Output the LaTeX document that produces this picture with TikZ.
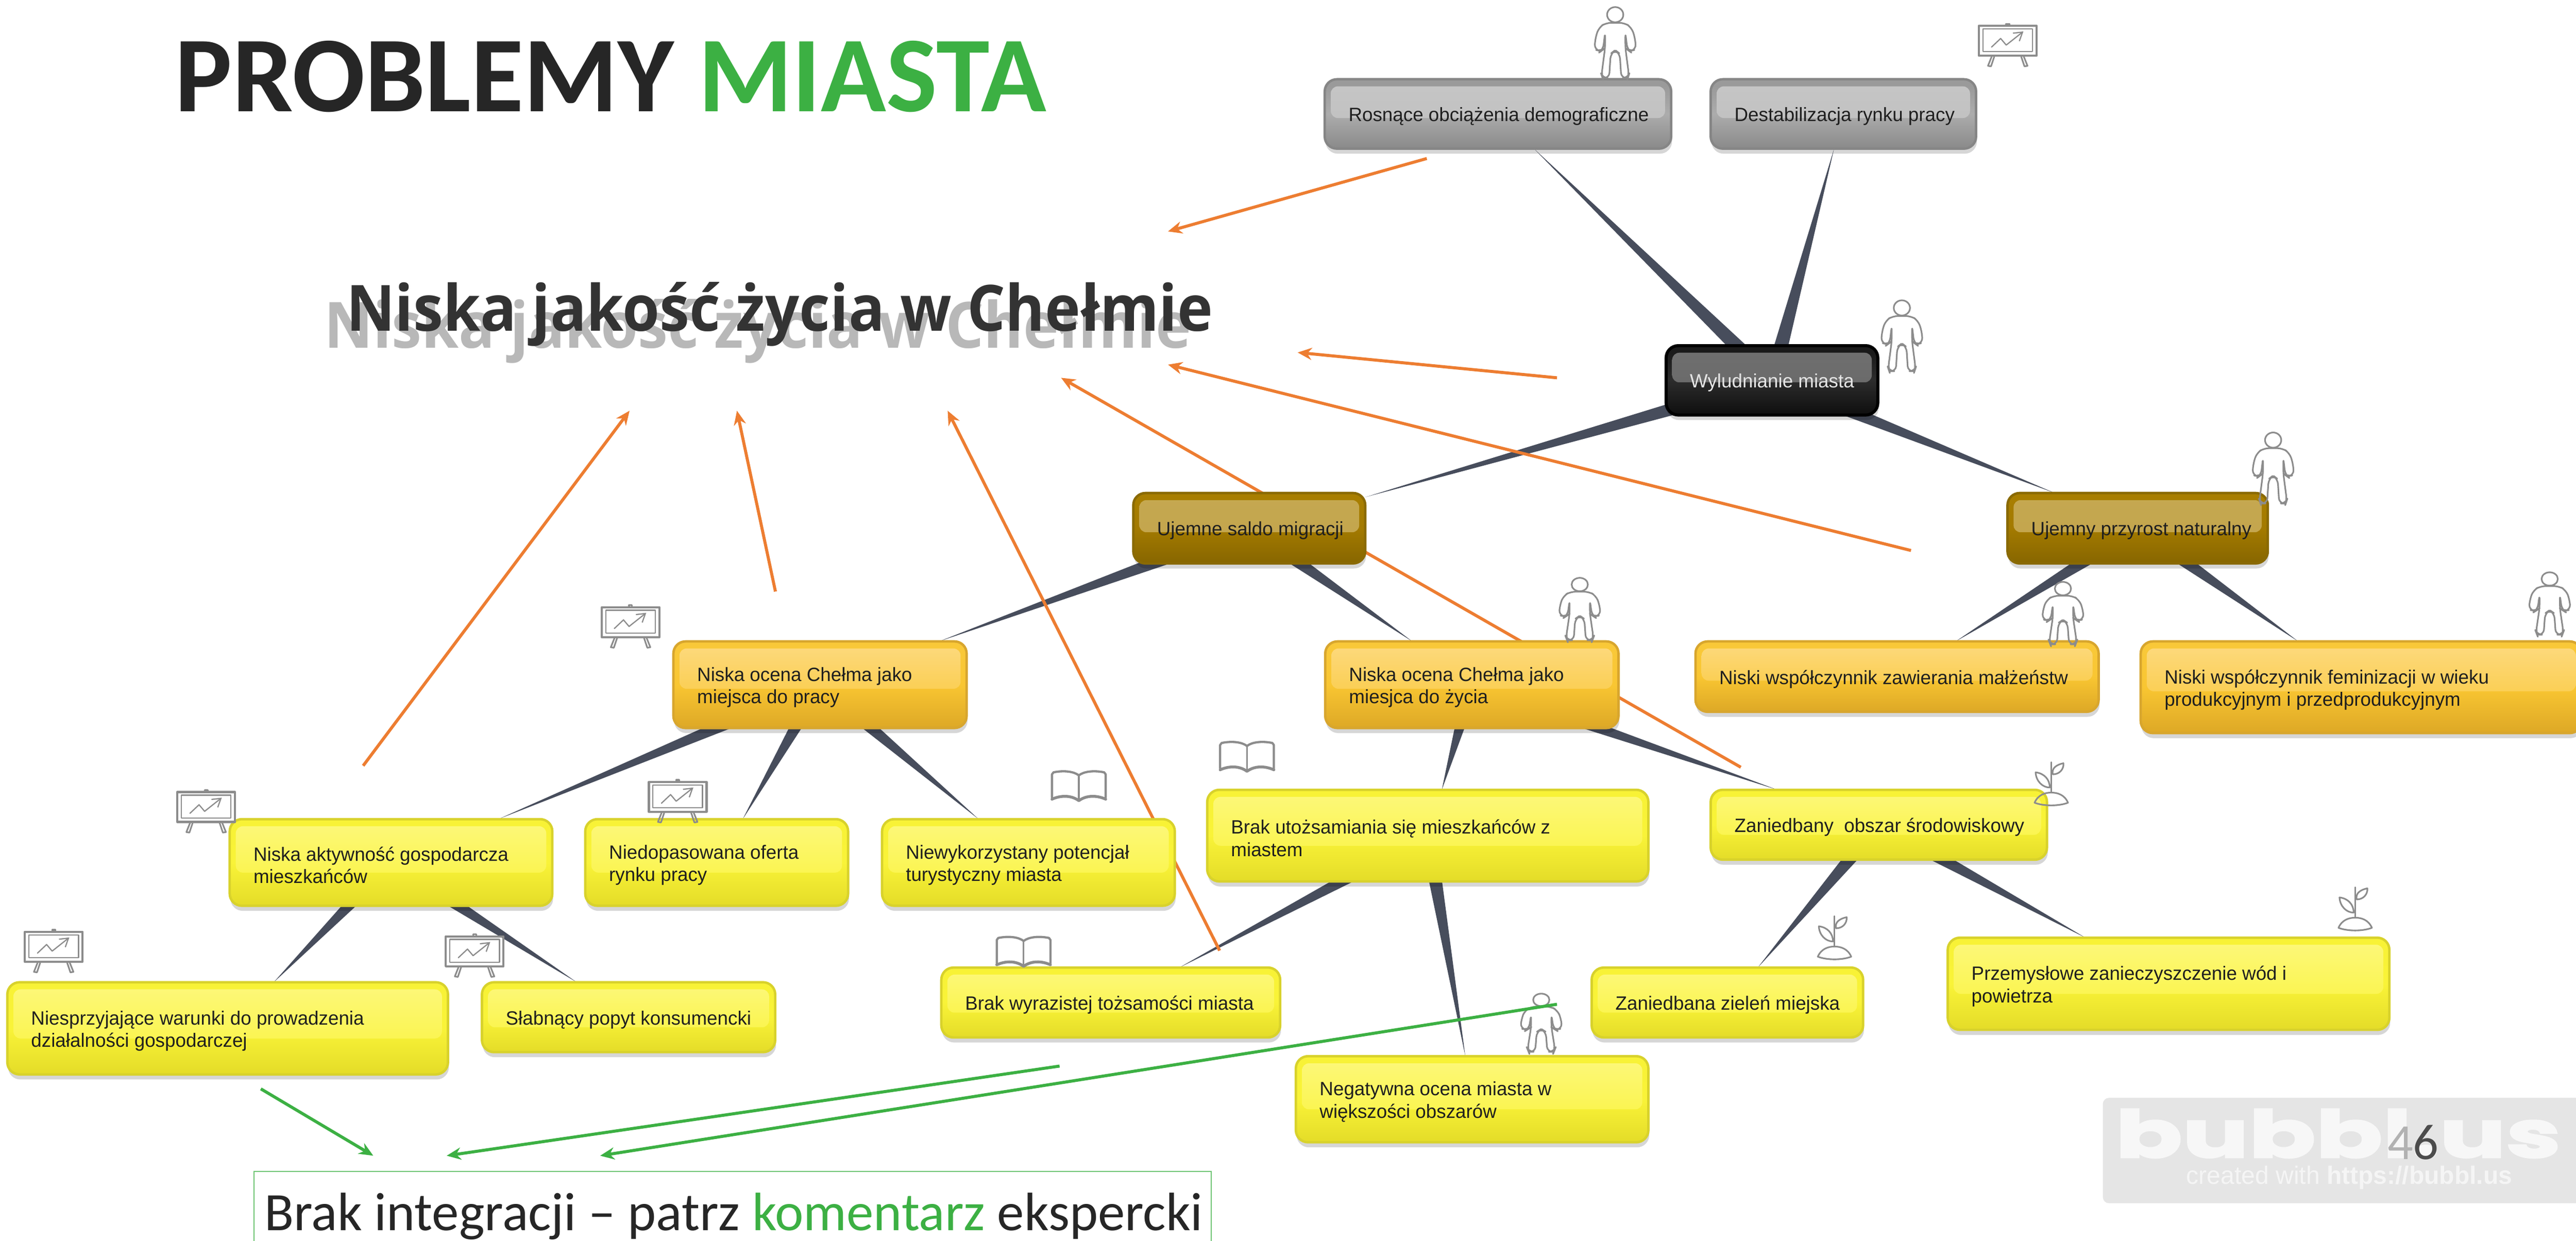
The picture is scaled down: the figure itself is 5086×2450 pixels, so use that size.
\documentclass[tikz,border=0pt]{standalone}
\usepackage{fontspec}
\setmainfont[FakeStretch=.985]{Liberation Sans}
\newfontfamily\carl{Carlito}
\newfontfamily\opens[FakeStretch=.94]{Open Sans}
\newfontfamily\bub[FakeBold=3,FakeStretch=1.52]{Poppins}
\usetikzlibrary{arrows.meta,calc,shadows,backgrounds}
\pgfdeclarelayer{wedgelayer}
\pgfdeclarelayer{arrowlayer}
\pgfsetlayers{wedgelayer,arrowlayer,main}
\definecolor{wedgec}{HTML}{474D5C}
\definecolor{orangearr}{HTML}{ED7D31}
\definecolor{greenarr}{HTML}{3CB043}
\definecolor{icong}{HTML}{8C8C8C}
\definecolor{ybot}{HTML}{E4DC28}\definecolor{ymid}{HTML}{F9F338}\definecolor{ytop}{HTML}{F8F236}\definecolor{yhl}{HTML}{FDF87C}\definecolor{ybd}{HTML}{D8D22C}
\definecolor{gbot}{HTML}{DDA826}\definecolor{gmid}{HTML}{F9C632}\definecolor{gtop}{HTML}{F9C838}\definecolor{ghl}{HTML}{FDDA80}\definecolor{gbd}{HTML}{D8A62E}
\definecolor{bbot}{HTML}{876600}\definecolor{bmid}{HTML}{A37A00}\definecolor{btop}{HTML}{A87E00}\definecolor{bhl}{HTML}{C5A851}\definecolor{bbd}{HTML}{8A6A04}
\definecolor{sbot}{HTML}{8A8A8A}\definecolor{smid}{HTML}{ACACAC}\definecolor{stop}{HTML}{9A9A9A}\definecolor{shl}{HTML}{C6C6C6}\definecolor{sbd}{HTML}{868686}
\definecolor{kbot}{HTML}{0E0E0E}\definecolor{kmid}{HTML}{2C2C2C}\definecolor{ktop}{HTML}{1A1A1A}\definecolor{khl}{HTML}{707070}\definecolor{kbd}{HTML}{000000}
\pgfdeclareverticalshading{yshade}{100bp}{color(0bp)=(ybot);color(25bp)=(ybot);color(50bp)=(ymid);color(70bp)=(ytop);color(100bp)=(ytop)}
\pgfdeclareverticalshading{gshade}{100bp}{color(0bp)=(gbot);color(25bp)=(gbot);color(50bp)=(gmid);color(70bp)=(gtop);color(100bp)=(gtop)}
\pgfdeclareverticalshading{bshade}{100bp}{color(0bp)=(bbot);color(25bp)=(bbot);color(50bp)=(bmid);color(70bp)=(btop);color(100bp)=(btop)}
\pgfdeclareverticalshading{sshade}{100bp}{color(0bp)=(sbot);color(25bp)=(sbot);color(50bp)=(smid);color(70bp)=(stop);color(100bp)=(stop)}
\pgfdeclareverticalshading{kshade}{100bp}{color(0bp)=(kbot);color(25bp)=(kbot);color(50bp)=(kmid);color(70bp)=(ktop);color(100bp)=(ktop)}
\tikzset{
  naturalspaces/.style={execute at begin node={\spaceskip=0pt \xspaceskip=0pt }},
  basebox/.style={rectangle,rounded corners=6pt,line width=1.2pt,outer sep=0pt,inner ysep=0pt,inner xsep=11.75pt,
    align=left,naturalspaces,text=black!88,font=\fontsize{9.5}{11}\selectfont,
    drop shadow={shadow xshift=.4pt,shadow yshift=-2.5pt,opacity=.16,fill=black}},
  gloss/.style n args={4}{shading=#1,
    path picture={\shade[top color=#2,bottom color=#3,rounded corners=3.5pt]
      ([xshift=3pt,yshift=-3.5pt]path picture bounding box.north west) rectangle ([xshift=-3pt,yshift=#4]path picture bounding box.east);}},
  yellowbox/.style={basebox,draw=ybd,gloss={yshade}{yhl}{ymid}{-5pt}},
  goldbox/.style={basebox,draw=gbd,gloss={gshade}{ghl}{gmid}{-2pt}},
  brownbox/.style={basebox,draw=bbd,gloss={bshade}{bhl}{bhl!92!bmid}{-2pt}},
  greybox/.style={basebox,draw=sbd,gloss={sshade}{shl}{shl!70!smid}{-2pt}},
  blackbox/.style={basebox,draw=kbd,line width=1.5pt,text=white!90!black,gloss={kshade}{khl}{khl!85!kmid}{-1pt}},
  wedgefill/.style={fill=wedgec},
  oarrow/.style={draw=orangearr,line width=1.5pt,-{Stealth[length=7pt,width=6pt]}},
  garrow/.style={draw=greenarr,line width=1.5pt,-{Stealth[length=7pt,width=6pt]}},
  iconline/.style={draw=icong,line width=.8pt,line join=round,line cap=round},
  person/.pic={
    \draw[iconline] (0,15) circle[x radius=16,y radius=15];
    \draw[iconline,rounded corners=2.5pt] (0,31) -- (18,31) -- (32,40) -- (39,60) -- (41,84) -- (28,87) -- (24,84) -- (20,50) -- (20,80) -- (27,134) -- (25,140) -- (12,140) -- (9,92) -- (0,85)
       -- (-9,92) -- (-12,140) -- (-25,140) -- (-27,134) -- (-20,80) -- (-20,50) -- (-24,84) -- (-28,87) -- (-41,84) -- (-39,60) -- (-32,40) -- (-18,31) -- cycle;
  },
  easel/.pic={
    \draw[iconline,line width=1.1pt] (-57,5) rectangle (57,64);
    \draw[iconline,line width=.6pt] (-49,11) rectangle (49,56);
    \draw[iconline] (-3,5) -- (-3,1) -- (3,1) -- (3,5);
    \draw[iconline] (-31,64) -- (-39,84) -- (-33,85) -- (-26,64);
    \draw[iconline] (31,64) -- (39,84) -- (33,85) -- (26,64);
    \draw[iconline,line width=.6pt,-{Straight Barb[length=4pt,width=5pt]}] (-32,47) -- (-14,30) -- (-3,43) -- (31,16);
  },
  bookicon/.pic={
    \draw[iconline,line width=1.1pt] (0,8) .. controls (-10,0) and (-30,-2) .. (-50,2) -- (-53,6) -- (-53,52);
    \draw[iconline,line width=1.1pt] (0,8) .. controls (10,0) and (30,-2) .. (50,2) -- (53,6) -- (53,52);
    \draw[iconline,line width=.8pt] (0,8) -- (0,56);
    \draw[iconline,line width=1.4pt] (-53,55) .. controls (-35,47) and (-15,47) .. (0,58) .. controls (15,47) and (35,47) .. (53,55);
  },
  planticon/.pic={
    \draw[iconline] (0,0) -- (0,60);
    \draw[iconline] (-33,80) .. controls (-26,64) and (-12,60) .. (0,60) .. controls (12,60) and (26,64) .. (33,80) .. controls (15,87) and (-15,87) .. (-33,80) -- cycle;
    \draw[iconline] (3,24) .. controls (0,12) and (10,5) .. (24,2) .. controls (25,14) and (16,24) .. (3,24) -- cycle;
    \draw[iconline] (-3,50) .. controls (-17,50) and (-30,38) .. (-31,20) .. controls (-14,22) and (-3,34) .. (-3,50) -- cycle;
  }
}
\newcommand{\ml}[1]{\raisebox{-1.25pt}[\height][\depth]{#1}}
\newcommand{\bx}[7]{\node (#1) [#2,minimum width={(#5-#3-5)*0.25pt},minimum height={(#6-#4-5)*0.25pt},text width={(#5-#3-99)*0.25pt}] at ({(#3+#5)/2},{(#4+#6)/2}) {#7};}
\newcommand{\wdg}[2]{\fill[wedgefill] let \p1=($(#1.center)-(#2.center)$), \n1={atan2(\y1,\x1)} in ($(#1.center)!4pt!90:(#2.center)$) -- (#2.\n1) -- ($(#1.center)!4pt!-90:(#2.center)$) -- cycle;}
\newcommand{\oar}[6]{\coordinate (#1s) at (#3,#4);\coordinate (#1t) at (#5,#6);\draw[#2] (#1s) -- (#1t);}
\begin{document}
\begin{tikzpicture}[x=0.25pt,y=-0.25pt]
\useasboundingbox (0,0) rectangle (5086,2450);
% title
\node (title) [anchor=base west,inner sep=0pt,text=black!85,font=\carl\bfseries\fontsize{53.2}{60}\selectfont] at (345,220) {PROBLEMY \textcolor{greenarr}{MIASTA}};
\node (subshadow) [anchor=base west,inner sep=0pt,text=black!28,font=\opens\bfseries\fontsize{31.5}{34}\selectfont] at (640,687) {Niska jakość życia w Chełmie};
\node (subtitle) [anchor=base west,inner sep=0pt,text=black!80,font=\opens\bfseries\fontsize{31.5}{34}\selectfont] at (683,654) {Niska jakość życia w Chełmie};
% boxes
\bx{ros}{greybox}{2613}{154}{3302}{296}{\ml{Rosnące obciążenia demograficzne}}
\bx{des}{greybox}{3375}{154}{3904}{296}{\ml{Destabilizacja rynku pracy}}
\bx{wyl}{blackbox}{3287}{680}{3710}{822}{\ml{Wyludnianie miasta}}
\bx{sal}{brownbox}{2235}{971}{2698}{1115}{\ml{Ujemne saldo migracji}}
\bx{prz}{brownbox}{3961}{971}{4480}{1115}{\ml{Ujemny przyrost naturalny}}
\bx{pra}{goldbox}{1327}{1264}{1911}{1440}{\ml{Niska ocena Chełma jako}\\\ml{miejsca do pracy}}
\bx{zyc}{goldbox}{2614}{1264}{3198}{1440}{\ml{Niska ocena Chełma jako}\\\ml{miesjca do życia}}
\bx{zaw}{goldbox}{3345}{1264}{4146}{1408}{\ml{Niski współczynnik zawierania małżeństw}}
\bx{fem}{goldbox}{4224}{1264}{5100}{1450}{\ml{Niski współczynnik feminizacji w wieku}\\\ml{produkcyjnym i przedprodukcyjnym}}
\bx{akt}{yellowbox}{451}{1615}{1093}{1791}{\ml{Niska aktywność gospodarcza}\\\ml{mieszkańców}}
\bx{nie}{yellowbox}{1153}{1615}{1677}{1791}{\ml{Niedopasowana oferta}\\\ml{rynku pracy}}
\bx{tur}{yellowbox}{1739}{1615}{2322}{1791}{\ml{Niewykorzystany potencjał}\\\ml{turystyczny miasta}}
\bx{uto}{yellowbox}{2381}{1557}{3257}{1743}{\ml{Brak utożsamiania się mieszkańców z}\\\ml{miastem}}
\bx{zan}{yellowbox}{3375}{1557}{4044}{1700}{\ml{Zaniedbany\ \ obszar środowiskowy}}
\bx{wyr}{yellowbox}{1856}{1908}{2530}{2051}{\ml{Brak wyrazistej tożsamości miasta}}
\bx{neg}{yellowbox}{2556}{2083}{3257}{2258}{\ml{Negatywna ocena miasta w}\\\ml{większości obszarów}}
\bx{zie}{yellowbox}{3140}{1908}{3681}{2051}{\ml{Zaniedbana zieleń miejska}}
\bx{prm}{yellowbox}{3843}{1849}{4720}{2036}{\ml{Przemysłowe zanieczyszczenie wód i}\\\ml{powietrza}}
\bx{war}{yellowbox}{12}{1937}{887}{2124}{\ml{Niesprzyjające warunki do prowadzenia}\\\ml{działalności gospodarczej}}
\bx{slb}{yellowbox}{949}{1937}{1533}{2080}{\ml{Słabnący popyt konsumencki}}
% tapered connectors
\begin{pgfonlayer}{wedgelayer}
\wdg{wyl}{ros}\wdg{wyl}{des}\wdg{wyl}{sal}\wdg{wyl}{prz}
\wdg{sal}{pra}\wdg{sal}{zyc}\wdg{prz}{zaw}\wdg{prz}{fem}
\wdg{pra}{akt}\wdg{pra}{nie}\wdg{pra}{tur}
\wdg{zyc}{uto}\wdg{zyc}{zan}
\wdg{akt}{war}\wdg{akt}{slb}
\wdg{uto}{wyr}\wdg{uto}{neg}
\wdg{zan}{zie}\wdg{zan}{prm}
\end{pgfonlayer}
% orange arrows, behind the boxes
\begin{pgfonlayer}{arrowlayer}
\oar{oa}{oarrow}{2817}{313}{2306}{457}
\oar{ob}{oarrow}{3074}{746}{2562}{696}
\oar{oc}{oarrow}{3773}{1087}{2306}{720}
\oar{od}{oarrow}{3437}{1515}{2095}{746}
\oar{oe}{oarrow}{1531}{1168}{1455}{811}
\oar{of}{oarrow}{717}{1512}{1243}{811}
\oar{og}{oarrow}{2408}{1877}{1871}{811}
\end{pgfonlayer}
% icons
\pic at (3189,14) {person};
\pic at (3755,593) {person};
\pic at (4488,854) {person};
\pic[yscale=.88] at (3119,1141) {person};
\pic[yscale=.88] at (4073,1149) {person};
\pic[yscale=.88] at (5034,1130) {person};
\pic[yscale=.82] at (3043,1962) {person};
\pic at (3964,46) {easel};
\pic at (1245,1194) {easel};
\pic at (407,1559) {easel};
\pic at (1338,1539) {easel};
\pic at (937,1844) {easel};
\pic at (106,1835) {easel};
\pic at (2130,1523) {bookicon};
\pic at (2021,1850) {bookicon};
\pic at (2462,1465) {bookicon};
\pic at (4050,1505) {planticon};
\pic at (3622,1809) {planticon};
\pic at (4650,1752) {planticon};
% bottom label
\node (brak) [draw=greenarr!75,line width=.5pt,anchor=north west,inner sep=0pt,inner xsep=5.25pt,outer sep=0pt,text width=462pt,text depth=8pt,text height=29.25pt,align=left,naturalspaces,text=black!85,font=\carl\fontsize{26.7}{30}\selectfont] at (501,2313) {\mbox{Brak integracji – patrz \textcolor{greenarr}{komentarz} ekspercki}};
% green arrows
\oar{ga}{garrow}{515}{2150}{737}{2282}
\oar{gb}{garrow}{2092}{2105}{882}{2282}
\oar{gc}{garrow}{3074}{1983}{1185}{2282}
% watermark
\node (wm) [fill=black!10,rounded corners=3pt,anchor=north west,inner sep=0pt,minimum width=240pt,minimum height=52pt] at (4151,2167) {};
\node (wmlogo) [anchor=base west,inner sep=0pt,text=black!3,font=\bub\bfseries\fontsize{32}{36}\selectfont] at (4176,2285) {bubbl.us};
\node (wmurl) [anchor=base west,inner sep=0pt,text=black!4,font=\fontsize{12.4}{14}\selectfont] at (4316,2338) {created with \textbf{https://bubbl.us}};
\node (pageno) [anchor=base west,inner sep=0pt,font=\carl\fontsize{25}{28}\selectfont] at (4713,2289) {\textcolor{black!30}{4}\textcolor{black!70}{6}};
\end{tikzpicture}
\end{document}
